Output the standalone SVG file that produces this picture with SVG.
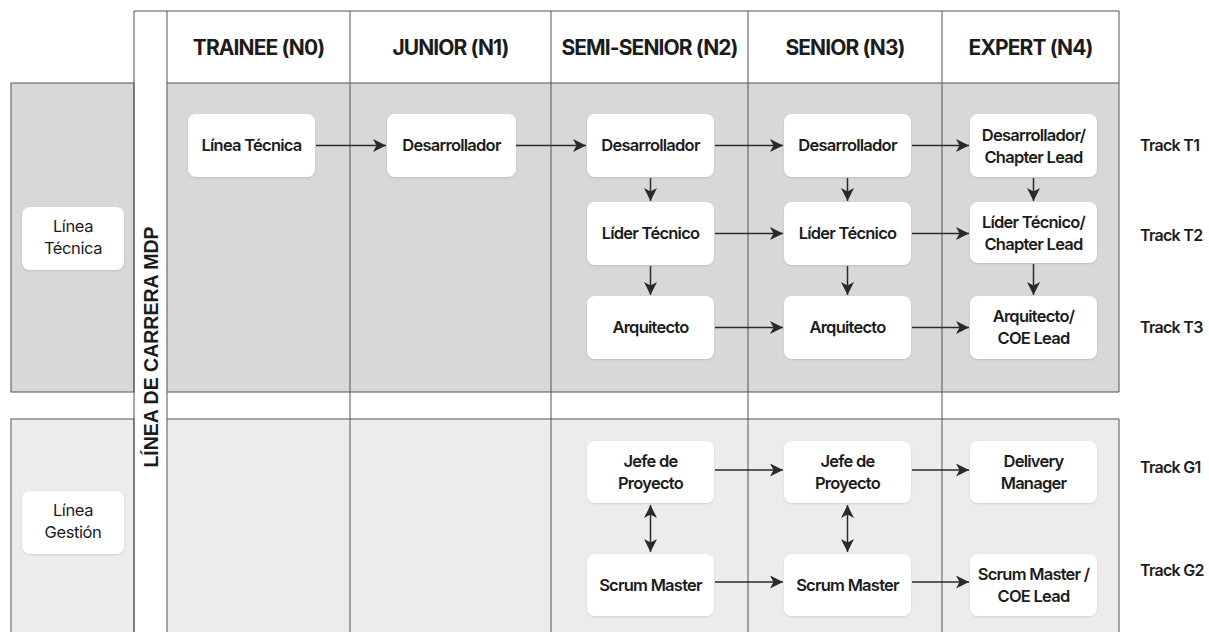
<svg xmlns="http://www.w3.org/2000/svg" width="1209" height="632" viewBox="0 0 1209 632">
<style>
.grid{stroke:#555;stroke-width:1;fill:none}
.node{fill:#fff;filter:url(#sh)}
.nt{font-family:Inter,"Liberation Sans",sans-serif;font-weight:600;font-size:16.5px;letter-spacing:-0.75px;fill:#1c1c1c;text-anchor:middle}
.lt{font-family:Inter,"Liberation Sans",sans-serif;font-weight:400;font-size:16.5px;letter-spacing:-0.4px;fill:#1c1c1c;text-anchor:middle}
.hd{font-family:Inter,"Liberation Sans",sans-serif;font-weight:700;font-size:21px;letter-spacing:-0.9px;fill:#1c1c1c;text-anchor:middle}
.tr{font-family:Inter,"Liberation Sans",sans-serif;font-weight:600;font-size:16px;letter-spacing:-0.7px;fill:#1c1c1c}
.vt{font-family:"Liberation Sans",Arial,sans-serif;font-weight:700;font-size:19.5px;fill:#1c1c1c;text-anchor:middle}
.ar{stroke:#2a2a2a;stroke-width:1.5;fill:none;marker-end:url(#ah)}
.ab{stroke:#2a2a2a;stroke-width:1.5;fill:none;marker-end:url(#ah);marker-start:url(#ahs)}
</style>
<defs>
<marker id="ah" markerUnits="userSpaceOnUse" markerWidth="14" markerHeight="13" refX="13" refY="6.5" orient="auto">
<path d="M0,0 L13,6.5 L0,13 L3.5,6.5 z" fill="#2a2a2a"/>
</marker>
<marker id="ahs" markerUnits="userSpaceOnUse" markerWidth="14" markerHeight="13" refX="0" refY="6.5" orient="auto">
<path d="M13,0 L0,6.5 L13,13 L9.5,6.5 z" fill="#2a2a2a"/>
</marker>
<filter id="sh" x="-10%" y="-10%" width="120%" height="130%">
<feDropShadow dx="0" dy="1" stdDeviation="1.2" flood-color="#000" flood-opacity="0.12"/>
</filter>
</defs>
<rect width="1209" height="632" fill="#fff"/>
<g id="background">
<rect x="167" y="83" width="952" height="309" fill="#d8d8d8"/>
<rect x="167" y="419" width="952" height="220" fill="#ececec"/>
<rect x="11" y="83" width="123" height="309" class="grid" style="fill:#d8d8d8"/>
<rect x="11" y="419" width="123" height="220" class="grid" style="fill:#ececec"/>
</g>
<g id="grid">
<line class="grid" x1="134" y1="11" x2="1119" y2="11"/>
<line class="grid" x1="167" y1="83" x2="1119" y2="83"/>
<line class="grid" x1="167" y1="392" x2="1119" y2="392"/>
<line class="grid" x1="167" y1="419" x2="1119" y2="419"/>
<line class="grid" x1="134" y1="11" x2="134" y2="632"/>
<line class="grid" x1="167" y1="11" x2="167" y2="632"/>
<line class="grid" x1="350" y1="11" x2="350" y2="632"/>
<line class="grid" x1="551" y1="11" x2="551" y2="632"/>
<line class="grid" x1="748" y1="11" x2="748" y2="632"/>
<line class="grid" x1="942" y1="11" x2="942" y2="632"/>
<line class="grid" x1="1119" y1="11" x2="1119" y2="392"/>
<line class="grid" x1="1119" y1="419" x2="1119" y2="632"/>
</g>
<g id="headers">
<text class="hd" x="258.5" y="55">TRAINEE (N0)</text>
<text class="hd" x="450.5" y="55">JUNIOR (N1)</text>
<text class="hd" x="649.5" y="55">SEMI-SENIOR (N2)</text>
<text class="hd" x="845" y="55">SENIOR (N3)</text>
<text class="hd" x="1030.5" y="55">EXPERT (N4)</text>
<text class="vt" transform="translate(158,347) rotate(-90)" x="0" y="0">LÍNEA DE CARRERA MDP</text>
</g>
<g id="label-tecnica">
<rect class="node" x="22" y="207" width="102" height="63" rx="8"/>
<text class="lt" x="73" y="232">Línea</text>
<text class="lt" x="73" y="254">Técnica</text>
</g>
<g id="label-gestion">
<rect class="node" x="22" y="491" width="102" height="63" rx="8"/>
<text class="lt" x="73" y="516">Línea</text>
<text class="lt" x="73" y="538">Gestión</text>
</g>
<g id="n0-tec"><rect class="node" x="188" y="114" width="127" height="63" rx="8"/><text class="nt" x="251.5" y="151">Línea Técnica</text></g>
<g id="n1-dev"><rect class="node" x="387" y="114" width="129" height="63" rx="8"/><text class="nt" x="451.5" y="151">Desarrollador</text></g>
<g id="n2-dev"><rect class="node" x="587" y="114" width="127" height="63" rx="8"/><text class="nt" x="650.5" y="151">Desarrollador</text></g>
<g id="n3-dev"><rect class="node" x="784" y="114" width="127" height="63" rx="8"/><text class="nt" x="847.5" y="151">Desarrollador</text></g>
<g id="n4-dev"><rect class="node" x="970" y="114" width="127" height="63" rx="8"/><text class="nt" x="1033.5" y="140.5">Desarrollador/</text><text class="nt" x="1033.5" y="162.5">Chapter Lead</text></g>
<g id="n2-lt"><rect class="node" x="587" y="202" width="127" height="63" rx="8"/><text class="nt" x="650.5" y="239">Líder Técnico</text></g>
<g id="n3-lt"><rect class="node" x="784" y="202" width="127" height="63" rx="8"/><text class="nt" x="847.5" y="239">Líder Técnico</text></g>
<g id="n4-lt"><rect class="node" x="970" y="202" width="127" height="61" rx="8"/><text class="nt" x="1033.5" y="228">Líder Técnico/</text><text class="nt" x="1033.5" y="250">Chapter Lead</text></g>
<g id="n2-arq"><rect class="node" x="587" y="296" width="127" height="63" rx="8"/><text class="nt" x="650.5" y="333">Arquitecto</text></g>
<g id="n3-arq"><rect class="node" x="784" y="296" width="127" height="63" rx="8"/><text class="nt" x="847.5" y="333">Arquitecto</text></g>
<g id="n4-arq"><rect class="node" x="970" y="296" width="127" height="63" rx="8"/><text class="nt" x="1033.5" y="322">Arquitecto/</text><text class="nt" x="1033.5" y="344">COE Lead</text></g>
<g id="n2-jp"><rect class="node" x="587" y="441" width="127" height="62" rx="8"/><text class="nt" x="650.5" y="467">Jefe de</text><text class="nt" x="650.5" y="489">Proyecto</text></g>
<g id="n3-jp"><rect class="node" x="784" y="441" width="127" height="62" rx="8"/><text class="nt" x="847.5" y="467">Jefe de</text><text class="nt" x="847.5" y="489">Proyecto</text></g>
<g id="n4-dm"><rect class="node" x="970" y="441" width="127" height="62" rx="8"/><text class="nt" x="1033.5" y="467">Delivery</text><text class="nt" x="1033.5" y="489">Manager</text></g>
<g id="n2-sm"><rect class="node" x="587" y="554" width="127" height="62" rx="8"/><text class="nt" x="650.5" y="591">Scrum Master</text></g>
<g id="n3-sm"><rect class="node" x="784" y="554" width="127" height="62" rx="8"/><text class="nt" x="847.5" y="591">Scrum Master</text></g>
<g id="n4-sm"><rect class="node" x="970" y="554" width="127" height="62" rx="8"/><text class="nt" x="1033.5" y="580">Scrum Master /</text><text class="nt" x="1033.5" y="602">COE Lead</text></g>
<g id="tracks">
<text class="tr" x="1140" y="151">Track T1</text>
<text class="tr" x="1140" y="241">Track T2</text>
<text class="tr" x="1140" y="333">Track T3</text>
<text class="tr" x="1140" y="473">Track G1</text>
<text class="tr" x="1140" y="576">Track G2</text>
</g>
<g id="connectors">
<line class="ar" x1="316" y1="145.5" x2="386" y2="145.5"/>
<line class="ar" x1="516" y1="145.5" x2="586" y2="145.5"/>
<line class="ar" x1="715" y1="145.5" x2="783" y2="145.5"/>
<line class="ar" x1="912" y1="145.5" x2="969" y2="145.5"/>
<line class="ar" x1="715" y1="233.5" x2="783" y2="233.5"/>
<line class="ar" x1="912" y1="233.5" x2="969" y2="233.5"/>
<line class="ar" x1="715" y1="327.5" x2="783" y2="327.5"/>
<line class="ar" x1="912" y1="327.5" x2="969" y2="327.5"/>
<line class="ar" x1="715" y1="470" x2="783" y2="470"/>
<line class="ar" x1="912" y1="470" x2="969" y2="470"/>
<line class="ar" x1="715" y1="582" x2="783" y2="582"/>
<line class="ar" x1="912" y1="582" x2="969" y2="582"/>
<line class="ar" x1="650.5" y1="178" x2="650.5" y2="201"/>
<line class="ar" x1="847.5" y1="178" x2="847.5" y2="201"/>
<line class="ar" x1="1033.5" y1="178" x2="1033.5" y2="201"/>
<line class="ar" x1="650.5" y1="266" x2="650.5" y2="295"/>
<line class="ar" x1="847.5" y1="266" x2="847.5" y2="295"/>
<line class="ar" x1="1033.5" y1="264" x2="1033.5" y2="295"/>
<line class="ab" x1="650.5" y1="505" x2="650.5" y2="552"/>
<line class="ab" x1="847.5" y1="505" x2="847.5" y2="552"/>
</g>
</svg>
